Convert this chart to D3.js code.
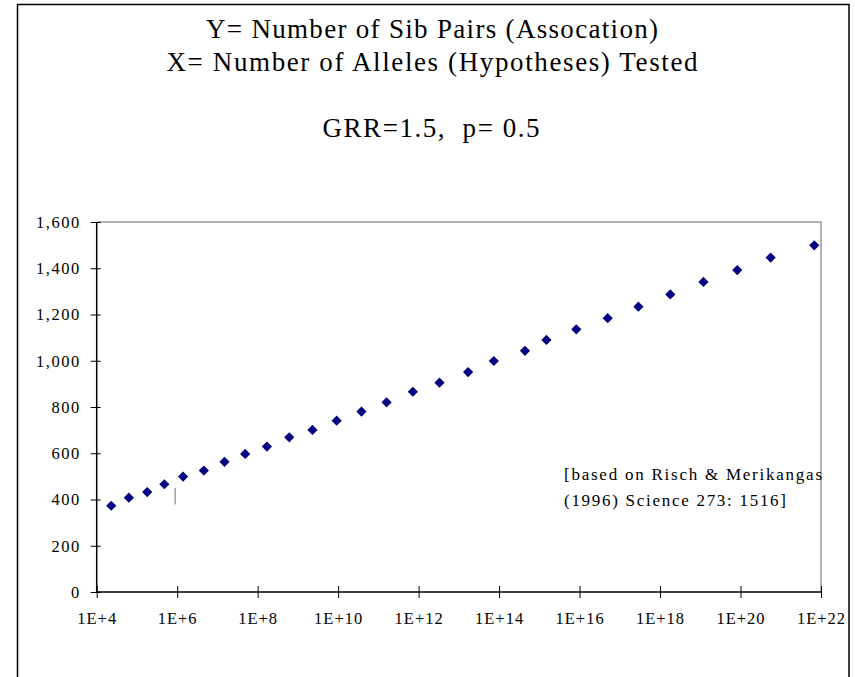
<!DOCTYPE html>
<html>
<head>
<meta charset="utf-8">
<script src="https://cdn.jsdelivr.net/npm/d3@7/dist/d3.min.js"></script>
<style>
  html, body { margin: 0; padding: 0; background: #fff; }
  svg { display: block; }
  text { font-family: "Liberation Serif", "Times New Roman", serif; fill: #000; }
</style>
</head>
<body>
<svg id="chart" width="855" height="677"></svg>
<script>
// Number of alleles (hypotheses) tested
const alleles = [
  2.3e4, 6.3e4, 1.8e5, 4.8e5, 1.4e6, 4.6e6, 1.5e7, 4.9e7, 1.7e8, 6.1e8,
  2.3e9, 9.2e9, 3.8e10, 1.6e11, 7.2e11, 3.3e12, 1.7e13, 7.4e13, 4.4e14, 1.5e15,
  8.3e15, 5.0e16, 2.9e17, 1.8e18, 1.2e19, 8.3e19, 5.6e20, 6.8e21
];
// Number of sib pairs required (association)
const sibPairs = [
  373, 408, 432, 466, 499, 525, 563, 597, 629, 669,
  701, 741, 780, 820, 866, 905, 951, 999, 1043, 1090,
  1136, 1184, 1234, 1287, 1341, 1392, 1446, 1499
];
const xTicks = [1e4, 1e6, 1e8, 1e10, 1e12, 1e14, 1e16, 1e18, 1e20, 1e22];
const yTicks = [0, 200, 400, 600, 800, 1000, 1200, 1400, 1600];
const titleLines = [
  "Y= Number of Sib Pairs (Assocation)",
  "X= Number of Alleles (Hypotheses) Tested"
];
const subtitle = "GRR=1.5,  p= 0.5";
const noteLines = ["[based on Risch & Merikangas", "(1996) Science 273: 1516]"];

const svg = d3.select("#chart");
const plot = { left: 96.7, right: 821, top: 222, bottom: 592 };

const x = d3.scaleLog().domain([1e4, 1e22]).range([plot.left, plot.right]);
const y = d3.scaleLinear().domain([0, 1600]).range([plot.bottom, plot.top]);

// Chart frame
svg.append("path")
  .attr("d", "M17.5,677 V4.5 H849 V677")
  .attr("fill", "none").attr("stroke", "#000").attr("stroke-width", 1.5);

// Plot area outline (top and right edges)
svg.append("path")
  .attr("d", `M${plot.left},${plot.top} H${plot.right} V${plot.bottom}`)
  .attr("fill", "none").attr("stroke", "#999").attr("stroke-width", 1.5);

// Titles
const titleWidths = [452, 531];
titleLines.forEach((t, i) => {
  svg.append("text")
    .attr("x", 432).attr("y", [38, 71][i])
    .attr("text-anchor", "middle")
    .attr("font-size", 27)
    .attr("textLength", titleWidths[i]).attr("lengthAdjust", "spacing")
    .text(t);
});
svg.append("text")
  .attr("x", 431).attr("y", 137)
  .attr("text-anchor", "middle")
  .attr("font-size", 27)
  .attr("textLength", 217).attr("lengthAdjust", "spacing")
  .style("white-space", "pre")
  .text(subtitle);

// X axis
const xAxis = svg.append("g")
  .attr("transform", `translate(0,${plot.bottom})`)
  .call(d3.axisBottom(x).tickValues(xTicks)
    .tickFormat(d => "1E+" + Math.round(Math.log10(d)))
    .tickSize(6).tickPadding(14));
xAxis.select(".domain").attr("stroke", "#000").attr("stroke-width", 1.5)
  .attr("d", `M${plot.left},0H${plot.right}`);
xAxis.selectAll(".tick line").attr("y1", -6).attr("y2", 6).attr("stroke", "#000");
xAxis.selectAll(".tick text")
  .attr("font-family", "Liberation Serif, serif").attr("font-size", 16.5)
  .attr("letter-spacing", 1);

// Y axis
const yAxis = svg.append("g")
  .attr("transform", `translate(${plot.left},0)`)
  .call(d3.axisLeft(y).tickValues(yTicks).tickFormat(d3.format(","))
    .tickSize(6).tickPadding(10));
yAxis.select(".domain").attr("stroke", "#000").attr("stroke-width", 1.5)
  .attr("d", `M0,${plot.top}V${plot.bottom}`);
yAxis.selectAll(".tick line").attr("x1", -6).attr("x2", 4).attr("stroke", "#000");
yAxis.selectAll(".tick text")
  .attr("font-family", "Liberation Serif, serif").attr("font-size", 16.5)
  .attr("letter-spacing", 1.5);

// Data points: navy diamonds
const diamond = d3.symbol().type(d3.symbolSquare).size(52);
svg.append("g").selectAll("path")
  .data(alleles.map((a, i) => [a, sibPairs[i]]))
  .join("path")
  .attr("d", diamond)
  .attr("transform", d => `translate(${x(d[0])},${y(d[1])}) rotate(45)`)
  .attr("fill", "#000080");

// Stray cursor mark near 1E+6
svg.append("line")
  .attr("x1", x(8.9e5)).attr("x2", x(8.9e5))
  .attr("y1", y(450)).attr("y2", y(378))
  .attr("stroke", "#888").attr("stroke-width", 1.2);

// Citation note
const noteWidths = [258, 222];
noteLines.forEach((t, i) => {
  svg.append("text")
    .attr("x", 564).attr("y", [479.5, 505.5][i])
    .attr("font-size", 17)
    .attr("textLength", noteWidths[i]).attr("lengthAdjust", "spacing")
    .text(t);
});
</script>
</body>
</html>
